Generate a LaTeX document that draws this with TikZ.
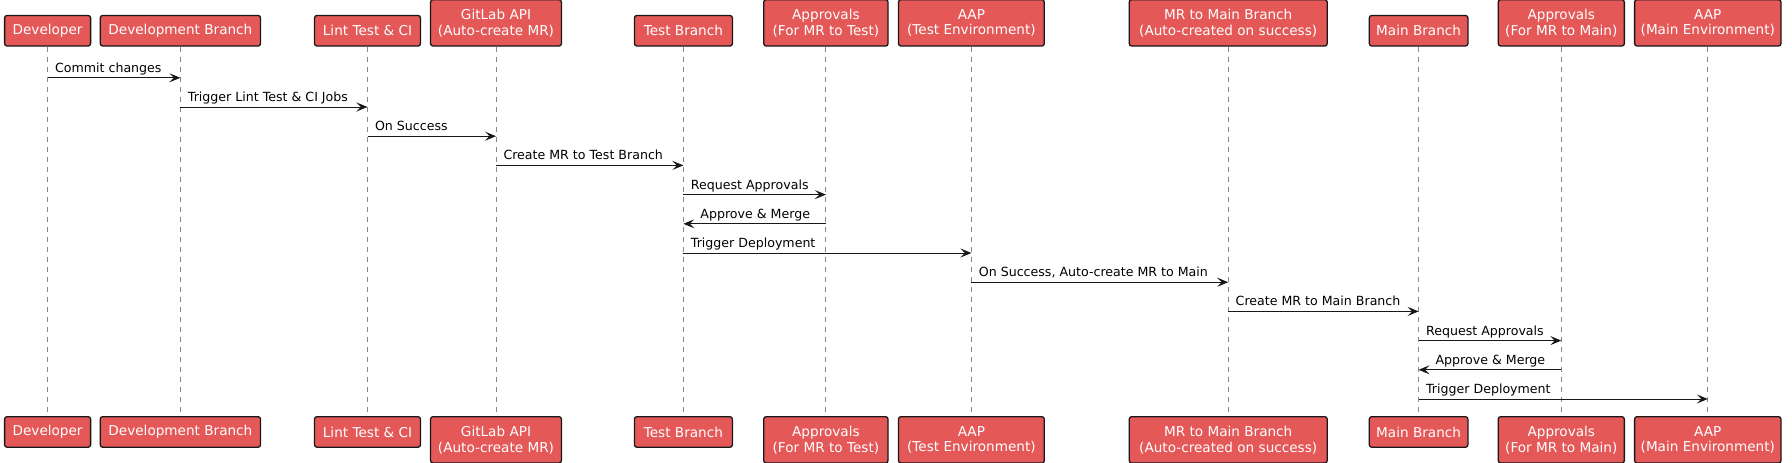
\documentclass[tikz,border=0pt]{standalone}
\usepackage{fontspec}
\setmainfont{DejaVu Sans}
\usetikzlibrary{arrows.meta}

\definecolor{boxred}{HTML}{E45858}
\definecolor{boxline}{HTML}{181818}
\definecolor{lifegrey}{HTML}{888888}

\begin{document}
\begin{tikzpicture}[
		x=1pt, y=-1pt,
		actor/.style={
			draw=boxline, line width=1.3pt, fill=boxred, rounded corners=2.5pt,
			text=white, align=center, inner sep=0pt,
			font=\fontsize{13.6}{15.8}\selectfont,
		},
		one/.style={actor, minimum height=30.6pt},
		two/.style={actor, minimum height=46.4pt},
		top/.style={anchor=south},
		bot/.style={anchor=north},
		life/.style={draw=lifegrey, line width=0.9pt, dash pattern=on 5pt off 5pt},
		msg/.style={draw=boxline, line width=1pt, -{Stealth[length=11pt,width=9pt,inset=4.5pt]}},
		lbl/.style={anchor=base west, inner sep=0pt, yshift=5.5pt, font=\fontsize{12.6}{15}\selectfont},
		]
		\useasboundingbox (0,0) rectangle (1792,463);
		% participants, top row
		\node[one, top, minimum width=86pt] (developer) at (47.6,46.7) {Developer};
		\node[one, top, minimum width=160.3pt] (devbranch) at (180.4,46.7) {Development Branch};
		\node[one, top, minimum width=106pt] (lint) at (367.5,46.7) {Lint Test \& CI};
		\node[two, top, minimum width=130.9pt] (gitlab) at (496,46.7) {GitLab API\\(Auto-create MR)};
		\node[one, top, minimum width=98pt] (testbranch) at (683.4,46.7) {Test Branch};
		\node[two, top, minimum width=124.3pt] (apprtest) at (825.9,46.7) {Approvals\\(For MR to Test)};
		\node[two, top, minimum width=145.8pt] (aaptest) at (971.4,46.7) {AAP\\(Test Environment)};
		\node[two, top, minimum width=198pt] (mrmain) at (1228.2,46.7) {MR to Main Branch\\(Auto-created on success)};
		\node[one, top, minimum width=98.6pt] (mainbranch) at (1418.6,46.7) {Main Branch};
		\node[two, top, minimum width=126.1pt] (apprmain) at (1561.3,46.7) {Approvals\\(For MR to Main)};
		\node[two, top, minimum width=146.4pt] (aapmain) at (1707.8,46.7) {AAP\\(Main Environment)};
		% participants, bottom row
		\node[one, bot, minimum width=86pt] (developerB) at (47.6,416) {Developer};
		\node[one, bot, minimum width=160.3pt] (devbranchB) at (180.4,416) {Development Branch};
		\node[one, bot, minimum width=106pt] (lintB) at (367.5,416) {Lint Test \& CI};
		\node[two, bot, minimum width=130.9pt] (gitlabB) at (496,416) {GitLab API\\(Auto-create MR)};
		\node[one, bot, minimum width=98pt] (testbranchB) at (683.4,416) {Test Branch};
		\node[two, bot, minimum width=124.3pt] (apprtestB) at (825.9,416) {Approvals\\(For MR to Test)};
		\node[two, bot, minimum width=145.8pt] (aaptestB) at (971.4,416) {AAP\\(Test Environment)};
		\node[two, bot, minimum width=198pt] (mrmainB) at (1228.2,416) {MR to Main Branch\\(Auto-created on success)};
		\node[one, bot, minimum width=98.6pt] (mainbranchB) at (1418.6,416) {Main Branch};
		\node[two, bot, minimum width=126.1pt] (apprmainB) at (1561.3,416) {Approvals\\(For MR to Main)};
		\node[two, bot, minimum width=146.4pt] (aapmainB) at (1707.8,416) {AAP\\(Main Environment)};
		% lifelines
		\path[life]
		(developer) -- (developerB)
		(devbranch) -- (devbranchB)
		(lint) -- (lintB)
		(gitlab) -- (gitlabB)
		(testbranch) -- (testbranchB)
		(apprtest) -- (apprtestB)
		(aaptest) -- (aaptestB)
		(mrmain) -- (mrmainB)
		(mainbranch) -- (mainbranchB)
		(apprmain) -- (apprmainB)
		(aapmain) -- (aapmainB)
		;
		% message rows
		\coordinate (r1) at (0,77.8);
		\coordinate (r2) at (0,107);
		\coordinate (r3) at (0,136.2);
		\coordinate (r4) at (0,165.4);
		\coordinate (r5) at (0,194.6);
		\coordinate (r6) at (0,223.8);
		\coordinate (r7) at (0,253);
		\coordinate (r8) at (0,282.2);
		\coordinate (r9) at (0,311.4);
		\coordinate (r10) at (0,340.6);
		\coordinate (r11) at (0,369.8);
		\coordinate (r12) at (0,399);
		% messages
		\draw[msg] (developer |- r1) -- node[lbl, at start, xshift=7pt] {Commit changes} (devbranch |- r1);
		\draw[msg] (devbranch |- r2) -- node[lbl, at start, xshift=7pt] {Trigger Lint Test \& CI Jobs} (lint |- r2);
		\draw[msg] (lint |- r3) -- node[lbl, at start, xshift=7pt] {On Success} (gitlab |- r3);
		\draw[msg] (gitlab |- r4) -- node[lbl, at start, xshift=7pt] {Create MR to Test Branch} (testbranch |- r4);
		\draw[msg] (testbranch |- r5) -- node[lbl, at start, xshift=7pt] {Request Approvals} (apprtest |- r5);
		\draw[msg] (apprtest |- r6) -- node[lbl, at end, xshift=16.5pt] {Approve \& Merge} (testbranch |- r6);
		\draw[msg] (testbranch |- r7) -- node[lbl, at start, xshift=7pt] {Trigger Deployment} (aaptest |- r7);
		\draw[msg] (aaptest |- r8) -- node[lbl, at start, xshift=7pt] {On Success, Auto-create MR to Main} (mrmain |- r8);
		\draw[msg] (mrmain |- r9) -- node[lbl, at start, xshift=7pt] {Create MR to Main Branch} (mainbranch |- r9);
		\draw[msg] (mainbranch |- r10) -- node[lbl, at start, xshift=7pt] {Request Approvals} (apprmain |- r10);
		\draw[msg] (apprmain |- r11) -- node[lbl, at end, xshift=16.5pt] {Approve \& Merge} (mainbranch |- r11);
		\draw[msg] (mainbranch |- r12) -- node[lbl, at start, xshift=7pt] {Trigger Deployment} (aapmain |- r12);
		\end{tikzpicture}
\end{document}
